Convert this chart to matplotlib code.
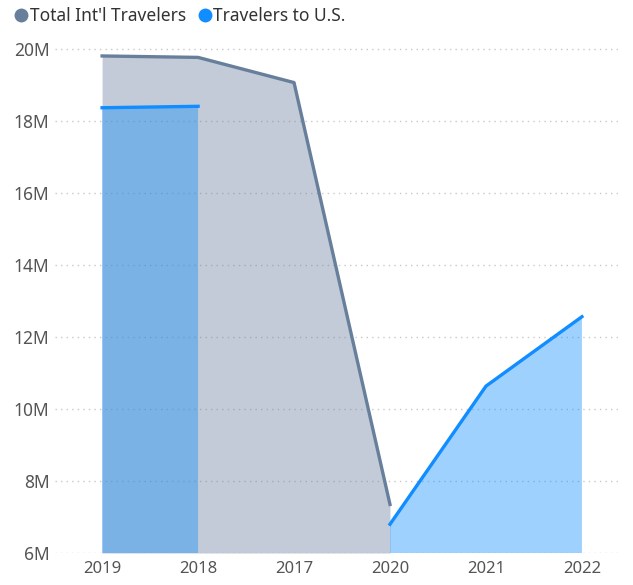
import numpy as np
import matplotlib.pyplot as plt
from matplotlib.lines import Line2D
from matplotlib.ticker import FuncFormatter

plt.rcParams['font.family'] = ['Noto Sans', 'DejaVu Sans']

# Travelers per year, in millions (NaN = no data for that series)
years = ['2019', '2018', '2017', '2020', '2021', '2022']
total_intl = [19.82, 19.78, 19.08, 7.35, np.nan, np.nan]
to_us = [18.38, 18.42, np.nan, 6.80, 10.64, 12.57]

gray_line = '#687f9b'
blue_line = '#118dff'
base = 6

x = np.arange(len(years))
total_arr = np.array(total_intl, dtype=float)
us_arr = np.array(to_us, dtype=float)

fig = plt.figure(figsize=(6.33, 5.85), dpi=100)
ax = fig.add_axes([0.087, 0.0547, 0.896, 0.873])

ax.fill_between(x, base, total_arr, color=gray_line, alpha=0.4, linewidth=0, zorder=1)
ax.fill_between(x, base, us_arr, color=blue_line, alpha=0.4, linewidth=0, zorder=2)
ax.plot(x, total_arr, color=gray_line, lw=2.4, zorder=3)
ax.plot(x, us_arr, color=blue_line, lw=2.4, zorder=4)

ax.set_xlim(-0.49, 5.42)
ax.set_ylim(base, 20.2)
ax.set_xticks(x)
ax.set_xticklabels(years)
ax.set_yticks(range(6, 21, 2))
ax.yaxis.set_major_formatter(FuncFormatter(lambda v, p: f'{v:.0f}M'))
ax.tick_params(axis='both', length=0, labelcolor='#555555')
ax.tick_params(axis='x', pad=6, labelsize=12)
ax.tick_params(axis='y', pad=4, labelsize=12.5)
ax.grid(axis='y', color='#c8c8c8', linestyle=(0, (1, 3)), lw=1)
ax.set_axisbelow(True)
for s in ax.spines.values():
    s.set_visible(False)

handles = [
    Line2D([], [], marker='o', color='none', markerfacecolor=gray_line,
           markeredgecolor='none', markersize=10, label="Total Int'l Travelers"),
    Line2D([], [], marker='o', color='none', markerfacecolor=blue_line,
           markeredgecolor='none', markersize=10, label='Travelers to U.S.'),
]
fig.legend(handles=handles, loc='upper left', bbox_to_anchor=(0.0, 1.015), ncol=2,
           frameon=False, fontsize=12.5, handlelength=0.6, handletextpad=0.2,
           columnspacing=0.8, labelcolor='#333333')

fig.savefig('out.png', dpi=100)
